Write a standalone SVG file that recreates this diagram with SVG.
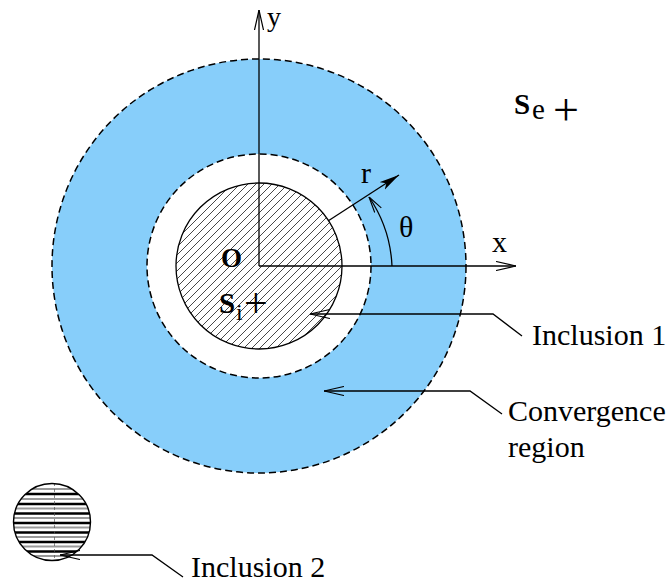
<svg xmlns="http://www.w3.org/2000/svg" width="670" height="583" viewBox="0 0 670 583">
<style>
.t{font-family:"Liberation Serif","Times New Roman",serif;fill:#000}
.ln{fill:none;stroke:#000;stroke-width:1.3}
.dash{fill:none;stroke:#000;stroke-width:1.5;stroke-dasharray:7 4}
</style>
<defs>
<pattern id="hatch" patternUnits="userSpaceOnUse" width="8" height="8">
<path d="M-1,1 L1,-1 M0,8 L8,0 M7,9 L9,7" stroke="#333" stroke-width="0.9"/>
</pattern>
<marker id="open" viewBox="0 0 20 10" refX="20" refY="5" markerWidth="20" markerHeight="10" markerUnits="userSpaceOnUse" orient="auto">
<path d="M0,0.5 L20,5 L0,9.5" fill="none" stroke="#000" stroke-width="1.2"/>
</marker>
<marker id="openStart" viewBox="0 0 20 10" refX="0" refY="5" markerWidth="20" markerHeight="10" markerUnits="userSpaceOnUse" orient="auto">
<path d="M20,0.5 L0,5 L20,9.5" fill="none" stroke="#000" stroke-width="1.2"/>
</marker>
<marker id="filled" viewBox="0 0 20 10" refX="20" refY="5" markerWidth="20" markerHeight="10" markerUnits="userSpaceOnUse" orient="auto">
<path d="M0,0.5 L20,5 L0,9.5 L5,5 Z" fill="#000"/>
</marker>
<marker id="arcHead" viewBox="0 0 16 10" refX="16" refY="5" markerWidth="16" markerHeight="10" markerUnits="userSpaceOnUse" orient="auto">
<path d="M0,1 L16,5 L0,9" fill="none" stroke="#000" stroke-width="1.1"/>
</marker>
</defs>

<g id="convergence-region">
<circle cx="259" cy="266" r="207" fill="#87cefa"/>
<circle cx="259" cy="266" r="207" class="dash"/>
<circle cx="259" cy="266" r="112" fill="#fff"/>
<circle cx="259" cy="266" r="112" class="dash"/>
</g>

<g id="inclusion1">
<circle cx="259" cy="266" r="83" fill="#fff"/>
<circle cx="259" cy="266" r="83" fill="url(#hatch)" stroke="#000" stroke-width="1.3"/>
</g>

<g id="inclusion2">
<clipPath id="c2"><circle cx="52" cy="522" r="38.5"/></clipPath>
<circle cx="52" cy="522" r="38.5" fill="#fff"/>
<g clip-path="url(#c2)">
<g stroke="#999" stroke-width="2">
<line x1="10" y1="489" x2="95" y2="489"/>
<line x1="10" y1="499" x2="95" y2="499"/>
<line x1="10" y1="508.5" x2="95" y2="508.5"/>
<line x1="10" y1="518" x2="95" y2="518"/>
<line x1="10" y1="527.5" x2="95" y2="527.5"/>
<line x1="10" y1="537" x2="95" y2="537"/>
<line x1="10" y1="546.5" x2="95" y2="546.5"/>
<line x1="10" y1="556" x2="95" y2="556"/>
</g>
<g stroke="#000" stroke-width="2.3">
<line x1="10" y1="494" x2="95" y2="494"/>
<line x1="10" y1="504" x2="95" y2="504"/>
<line x1="10" y1="513.5" x2="95" y2="513.5"/>
<line x1="10" y1="523" x2="95" y2="523"/>
<line x1="10" y1="532.5" x2="95" y2="532.5"/>
<line x1="10" y1="542" x2="95" y2="542"/>
<line x1="10" y1="551.5" x2="95" y2="551.5"/>
</g>
<line x1="54.5" y1="483" x2="54.5" y2="561" stroke="#555" stroke-width="0.7" stroke-dasharray="3 3"/>
</g>
<circle cx="52" cy="522" r="38.5" fill="none" stroke="#000" stroke-width="1.4"/>
</g>

<g id="axes">
<line x1="259" y1="266" x2="259" y2="10" class="ln" marker-end="url(#open)"/>
<line x1="259" y1="266" x2="516" y2="266" class="ln" marker-end="url(#open)"/>
<line x1="328" y1="221" x2="399" y2="175" class="ln" marker-end="url(#filled)"/>
<path d="M392,266 A133,133 0 0 0 369,197" class="ln" marker-end="url(#arcHead)"/>
</g>

<g id="connectors">
<polyline points="310,314 493,314 522,336" class="ln" marker-start="url(#openStart)"/>
<polyline points="324,391 470,391 502,414" class="ln" marker-start="url(#openStart)"/>
<polyline points="60,555 152,555 183,577" class="ln" marker-start="url(#openStart)"/>
</g>

<g id="labels">
<text class="t" x="267" y="26" font-size="28">y</text>
<text class="t" x="492" y="252" font-size="30">x</text>
<text class="t" x="361" y="183" font-size="30">r</text>
<text class="t" x="399" y="237" font-size="30">θ</text>
<text class="t" x="221" y="267" font-size="27" font-weight="bold">O</text>
<text class="t" x="219" y="313" font-size="29" font-weight="bold">S</text>
<text class="t" x="236" y="320" font-size="24">i</text>
<text class="t" x="244" y="317" font-size="42">+</text>
<text class="t" x="514" y="114" font-size="29" font-weight="bold">S</text>
<text class="t" x="532" y="119" font-size="29">e</text>
<text class="t" x="553" y="125" font-size="46">+</text>
<text class="t" x="532" y="345" font-size="30">Inclusion 1</text>
<text class="t" x="508" y="421" font-size="30">Convergence</text>
<text class="t" x="508" y="457" font-size="30">region</text>
<text class="t" x="191" y="577" font-size="30">Inclusion 2</text>
</g>
</svg>
